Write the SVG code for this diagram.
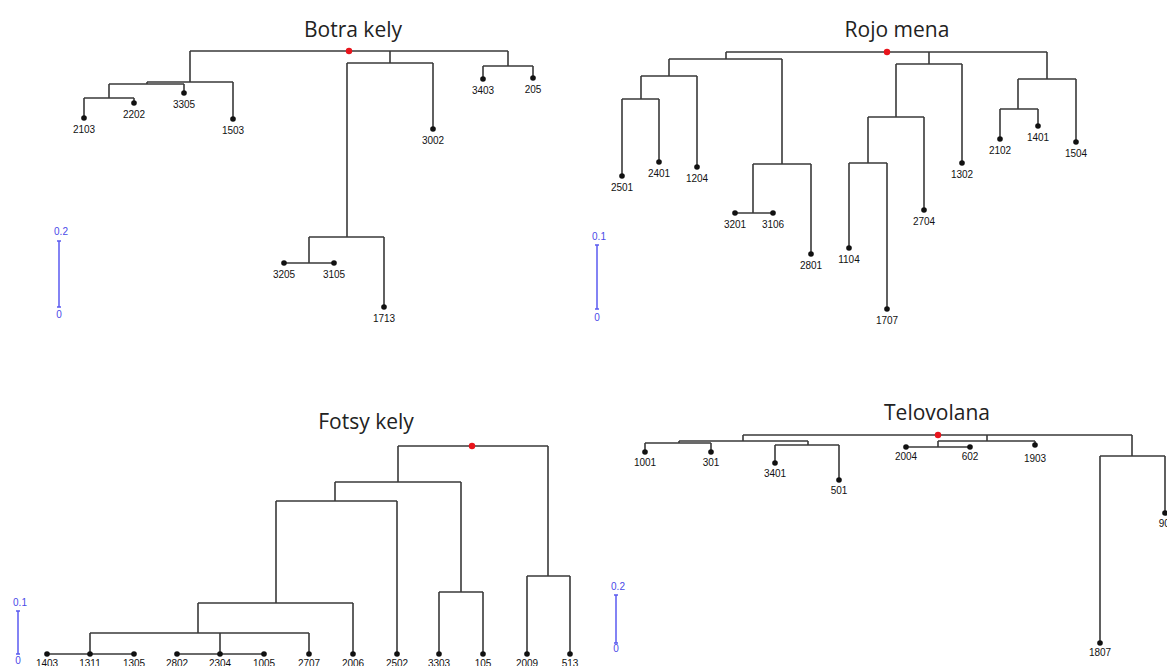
<svg xmlns="http://www.w3.org/2000/svg" width="1167" height="666" viewBox="0 0 1167 666">
<style>
.t{font-family:"Open Sans","Liberation Sans",sans-serif;font-size:21px;fill:#222;text-anchor:middle}
.e{fill:none;stroke:#3a3a3a;stroke-width:1.6}
.lf circle{fill:#111}
.lf text{font-family:"Liberation Sans Narrow","Liberation Sans",sans-serif;font-size:10px;fill:#111;text-anchor:middle}
.root{fill:#e8141c}
.sb line{stroke:#5a5af0;stroke-width:1.5}
.sb text{font-family:"Liberation Sans Narrow","Liberation Sans",sans-serif;font-size:10px;fill:#4a4ae8;text-anchor:middle}
</style>
<rect width="1167" height="666" fill="#fff"/>
<g id="titles">
<text class="t" x="353" y="37">Botra kely</text>
<text class="t" x="897" y="37">Rojo mena</text>
<text class="t" x="366" y="429">Fotsy kely</text>
<text class="t" x="937" y="420">Telovolana</text>
</g>
<g id="connectors" class="e">
<path d="M190,51H508M190,51V82M147,82H233M233,82V119M147,82V84M109,84H184M184,84V93M109,84V98M84,98H134M84,98V118M134,98V103M390,51V63M347,63H433M433,63V129M347,63V237M309,237H384M384,237V307M309,237V263M284,263H334M508,51V66M483,66H533M483,66V79M533,66V78"/>
<path d="M726,52H1047M726,52V59M669,59H782M669,59V76M641,76H697M697,76V167M641,76V99M622,99H659M622,99V176M659,99V162M782,59V164M753,164H811M811,164V254M753,164V213M735,213H773M929,52V64M896,64H962M962,64V163M896,64V117M868,117H924M924,117V210M868,117V163M849,163H887M849,163V248M887,163V309M1047,52V79M1018,79H1076M1076,79V142M1018,79V109M1000,109H1038M1000,109V139M1038,109V126"/>
<path d="M398,446H548M398,446V482M335,482H461M335,482V501M276,501H397M397,501V654M276,501V603M198,603H353M353,603V654M198,603V633M90,633H309M309,633V654M90,633V654M220,633V654M47,654H134M177,654H264M461,482V592M439,592H483M439,592V654M483,592V654M548,446V576M527,576H570M527,576V654M570,576V654"/>
<path d="M743,435H1132M743,435V441M679,441H808M679,441V443M645,443H711M645,443V452M711,443V452M808,441V445M775,445H839M775,445V463M839,445V480M987,435V441M938,441H1035M1035,441V445M938,441V447M906,447H970M1132,435V456M1100,456H1165M1165,456V513M1100,456V643"/>
</g>
<g id="roots">
<circle class="root" cx="349" cy="51" r="3.2"/>
<circle class="root" cx="887" cy="52" r="3.2"/>
<circle class="root" cx="472" cy="446" r="3.2"/>
<circle class="root" cx="938" cy="435" r="3.2"/>
</g>
<g id="botra-kely-leaves" class="lf">
<g id="n2103"><circle cx="84" cy="118" r="2.8"/><text x="84" y="133">2103</text></g>
<g id="n2202"><circle cx="134" cy="103" r="2.8"/><text x="134" y="118">2202</text></g>
<g id="n3305"><circle cx="184" cy="93" r="2.8"/><text x="184" y="108">3305</text></g>
<g id="n1503"><circle cx="233" cy="119" r="2.8"/><text x="233" y="134">1503</text></g>
<g id="n3002"><circle cx="433" cy="129" r="2.8"/><text x="433" y="144">3002</text></g>
<g id="n3205"><circle cx="284" cy="263" r="2.8"/><text x="284" y="278">3205</text></g>
<g id="n3105"><circle cx="334" cy="263" r="2.8"/><text x="334" y="278">3105</text></g>
<g id="n1713"><circle cx="384" cy="307" r="2.8"/><text x="384" y="322">1713</text></g>
<g id="n3403"><circle cx="483" cy="79" r="2.8"/><text x="483" y="94">3403</text></g>
<g id="n205"><circle cx="533" cy="78" r="2.8"/><text x="533" y="93">205</text></g>
</g>
<g id="rojo-mena-leaves" class="lf">
<g id="n2501"><circle cx="622" cy="176" r="2.8"/><text x="622" y="191">2501</text></g>
<g id="n2401"><circle cx="659" cy="162" r="2.8"/><text x="659" y="177">2401</text></g>
<g id="n1204"><circle cx="697" cy="167" r="2.8"/><text x="697" y="182">1204</text></g>
<g id="n3201"><circle cx="735" cy="213" r="2.8"/><text x="735" y="228">3201</text></g>
<g id="n3106"><circle cx="773" cy="213" r="2.8"/><text x="773" y="228">3106</text></g>
<g id="n2801"><circle cx="811" cy="254" r="2.8"/><text x="811" y="269">2801</text></g>
<g id="n1104"><circle cx="849" cy="248" r="2.8"/><text x="849" y="263">1104</text></g>
<g id="n1707"><circle cx="887" cy="309" r="2.8"/><text x="887" y="324">1707</text></g>
<g id="n2704"><circle cx="924" cy="210" r="2.8"/><text x="924" y="225">2704</text></g>
<g id="n1302"><circle cx="962" cy="163" r="2.8"/><text x="962" y="178">1302</text></g>
<g id="n2102"><circle cx="1000" cy="139" r="2.8"/><text x="1000" y="154">2102</text></g>
<g id="n1401"><circle cx="1038" cy="126" r="2.8"/><text x="1038" y="141">1401</text></g>
<g id="n1504"><circle cx="1076" cy="142" r="2.8"/><text x="1076" y="157">1504</text></g>
</g>
<g id="fotsy-kely-leaves" class="lf">
<g id="n1403"><circle cx="47" cy="654" r="2.8"/><text x="47" y="667">1403</text></g>
<g id="n1311"><circle cx="90" cy="654" r="2.8"/><text x="90" y="667">1311</text></g>
<g id="n1305"><circle cx="134" cy="654" r="2.8"/><text x="134" y="667">1305</text></g>
<g id="n2802"><circle cx="177" cy="654" r="2.8"/><text x="177" y="667">2802</text></g>
<g id="n2304"><circle cx="220" cy="654" r="2.8"/><text x="220" y="667">2304</text></g>
<g id="n1005"><circle cx="264" cy="654" r="2.8"/><text x="264" y="667">1005</text></g>
<g id="n2707"><circle cx="309" cy="654" r="2.8"/><text x="309" y="667">2707</text></g>
<g id="n2006"><circle cx="353" cy="654" r="2.8"/><text x="353" y="667">2006</text></g>
<g id="n2502"><circle cx="397" cy="654" r="2.8"/><text x="397" y="667">2502</text></g>
<g id="n3303"><circle cx="439" cy="654" r="2.8"/><text x="439" y="667">3303</text></g>
<g id="n105"><circle cx="483" cy="654" r="2.8"/><text x="483" y="667">105</text></g>
<g id="n2009"><circle cx="527" cy="654" r="2.8"/><text x="527" y="667">2009</text></g>
<g id="n513"><circle cx="570" cy="654" r="2.8"/><text x="570" y="667">513</text></g>
</g>
<g id="telovolana-leaves" class="lf">
<g id="n1001"><circle cx="645" cy="452" r="2.8"/><text x="645" y="466">1001</text></g>
<g id="n301"><circle cx="711" cy="452" r="2.8"/><text x="711" y="466">301</text></g>
<g id="n3401"><circle cx="775" cy="463" r="2.8"/><text x="775" y="477">3401</text></g>
<g id="n501"><circle cx="839" cy="480" r="2.8"/><text x="839" y="494">501</text></g>
<g id="n2004"><circle cx="906" cy="447" r="2.8"/><text x="906" y="460">2004</text></g>
<g id="n602"><circle cx="970" cy="447" r="2.8"/><text x="970" y="460">602</text></g>
<g id="n1903"><circle cx="1035" cy="445" r="2.8"/><text x="1035" y="462">1903</text></g>
<g id="n903"><circle cx="1165" cy="513" r="2.8"/><text x="1167" y="527">903</text></g>
<g id="n1807"><circle cx="1100" cy="643" r="2.8"/><text x="1100" y="656">1807</text></g>
</g>
<g id="scale-bars" class="sb">
<g id="sb1"><line x1="59" y1="241" x2="59" y2="307"/><line x1="57" y1="241" x2="61" y2="241"/><line x1="57" y1="307" x2="61" y2="307"/><text x="61" y="235">0.2</text><text x="59" y="318">0</text></g>
<g id="sb2"><line x1="597" y1="245" x2="597" y2="309"/><line x1="595" y1="245" x2="599" y2="245"/><line x1="595" y1="309" x2="599" y2="309"/><text x="599" y="240">0.1</text><text x="597" y="321">0</text></g>
<g id="sb3"><line x1="18" y1="611" x2="18" y2="654"/><line x1="16" y1="611" x2="20" y2="611"/><line x1="16" y1="654" x2="20" y2="654"/><text x="20" y="606">0.1</text><text x="18" y="664">0</text></g>
<g id="sb4"><line x1="616" y1="595" x2="616" y2="643"/><line x1="614" y1="595" x2="618" y2="595"/><line x1="614" y1="643" x2="618" y2="643"/><text x="618" y="590">0.2</text><text x="616" y="652">0</text></g>
</g>
</svg>
